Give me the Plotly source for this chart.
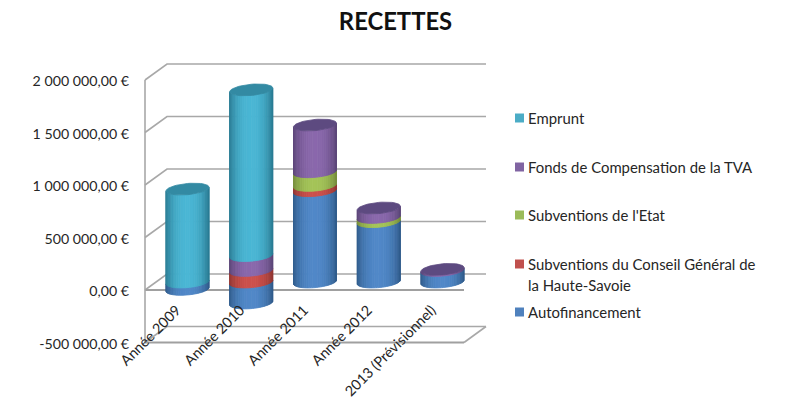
import math
import plotly.graph_objects as go

categories = ["Année 2009", "Année 2010", "Année 2011", "Année 2012", "2013 (Prévisionnel)"]
autofinancement = [-70000, -200000, 870000, 575000, 110000]
conseil_general = [0, 110000, 50000, 0, 0]
etat = [0, 0, 130000, 40000, 0]
fctva = [0, 142000, 445000, 90000, 10000]
emprunt = [885000, 1578000, 0, 0, 0]

series_names = ["Autofinancement", "Subventions du Conseil Général de la Haute-Savoie",
                "Subventions de l'Etat", "Fonds de Compensation de la TVA", "Emprunt"]
series_values = [autofinancement, conseil_general, etat, fctva, emprunt]
centre_colors = [(80, 136, 200), (204, 80, 76), (164, 196, 88), (138, 104, 172), (74, 182, 212)]
edge_colors = [(48, 92, 140), (146, 54, 50), (118, 142, 60), (92, 70, 120), (42, 124, 148)]
cap_colors = ["#3d6da3", "#a33f3b", "#85a045", "#5d4a80", "#338aa3"]
swatch_colors = ["#4f81bd", "#c0504d", "#9bbb59", "#8064a2", "#4bacc6"]

tick_vals = [2000000, 1500000, 1000000, 500000, 0, -500000]
tick_text = ["2 000 000,00 €", "1 500 000,00 €", "1 000 000,00 €", "500 000,00 €", "0,00 €", "-500 000,00 €"]

# Chart geometry
L, T, PW, PH = 144, 60, 346, 290
X_PX = 63.75
Y_PX = 105 / 1e6
x_range = [-43.5 / X_PX, (-43.5 + PW) / X_PX]
y_range = [(290 - (T + PH)) / Y_PX, (290 - T) / Y_PX]
RADIUS = 21.5 / X_PX
CAP_B = 5.6 / Y_PX
CAP_S = 1.9 / Y_PX
DEPTH_X = 22 / X_PX
DEPTH_Y = 16 / Y_PX
FRONT_L = x_range[0] + 1 / X_PX
FRONT_R = (464 - 187.5) / X_PX
BASE = 8 / Y_PX
STRIPS = 30
LABEL_NUDGE = 1.5 / Y_PX

fig = go.Figure()


def line(xs, ys, color="#a8a8a8", width=1.6):
    fig.add_trace(go.Scatter(x=xs, y=ys, mode="lines", line=dict(color=color, width=width), cliponaxis=False,
                             hoverinfo="skip", showlegend=False))


# Walls, gridlines and floor
for v in tick_vals:
    dark = v == 0
    line([FRONT_L, FRONT_L + DEPTH_X, FRONT_R + DEPTH_X], [v, v + DEPTH_Y, v + DEPTH_Y])
    if dark or v == tick_vals[-1]:
        line([FRONT_L, FRONT_R], [v, v], color="#a0a0a0", width=2)
line([FRONT_L, FRONT_L], [tick_vals[0], tick_vals[-1]])
line([FRONT_R, FRONT_R + DEPTH_X], [tick_vals[-1], tick_vals[-1] + DEPTH_Y])


def edge(cx, v, t):
    return (cx + RADIUS * math.cos(t),
            v + BASE - CAP_B * math.sin(t) + CAP_S * math.cos(t))


def mix(a, b, f):
    return "rgb(%d,%d,%d)" % tuple(round(p + (q - p) * f) for p, q in zip(a, b))


# Cylinder sides: vertical shaded strips for every stacked segment
for s, values in enumerate(series_values):
    for k in range(STRIPS):
        t1 = math.pi * (1 - k / STRIPS)
        t2 = math.pi * (1 - (k + 1) / STRIPS)
        u = math.cos((t1 + t2) / 2)
        shade = 1 - abs(u) ** 2.4
        xs, ys = [], []
        for i, val in enumerate(values):
            if val == 0:
                continue
            if val < 0:
                lo, hi = val, 0
            else:
                lo = sum(max(series_values[j][i], 0) for j in range(s))
                hi = lo + val
            pts = [edge(i, lo, t1), edge(i, lo, t2), edge(i, hi, t2), edge(i, hi, t1), edge(i, lo, t1)]
            xs += [p[0] for p in pts] + [None]
            ys += [p[1] for p in pts] + [None]
        if xs:
            col = mix(edge_colors[s], centre_colors[s], shade)
            fig.add_trace(go.Scatter(x=xs, y=ys, mode="lines", fill="toself", fillcolor=col,
                                     line=dict(color=col, width=0.8), hoverinfo="skip", showlegend=False))

# Top caps
for i in range(len(categories)):
    top = sum(max(v[i], 0) for v in series_values)
    s = max(j for j in range(len(series_values)) if series_values[j][i] > 0)
    pts = [edge(i, top, 2 * math.pi * a / 48) for a in range(49)]
    fig.add_trace(go.Scatter(x=[p[0] for p in pts], y=[p[1] for p in pts], mode="lines", fill="toself",
                             fillcolor=cap_colors[s], line=dict(color=cap_colors[s], width=0.8),
                             hoverinfo="skip", showlegend=False))

# Legend, placed by hand as in the reference
def px_x(p):
    return (p - L) / PW


def px_y(p):
    return (T + PH - p) / PH


legend_rows = [("Emprunt", 118, 4), ("Fonds de Compensation de la TVA", 167, 3), ("Subventions de l'Etat", 215, 2),
               ("Subventions du Conseil Général de", 264, 1), ("la Haute-Savoie", 285, None), ("Autofinancement", 312, 0)]
shapes, annotations = [], []
for label, py, s in legend_rows:
    annotations.append(dict(text=label, xref="paper", yref="paper", x=px_x(526), y=px_y(py), xanchor="left",
                            yanchor="middle", showarrow=False, font=dict(family="Lato", size=14.9, color="#262626")))
    if s is not None:
        shapes.append(dict(type="rect", xref="paper", yref="paper", x0=px_x(515), x1=px_x(524),
                           y0=px_y(py - 4.5), y1=px_y(py + 4.5), fillcolor=swatch_colors[s], line_width=0))

fig.update_layout(
    width=788, height=401, margin=dict(l=L, t=T, r=788 - L - PW, b=401 - T - PH),
    paper_bgcolor="white", plot_bgcolor="white", showlegend=False,
    title=dict(text="<b>RECETTES</b>", x=395.5 / 788, xanchor="center", y=1 - 22 / 401, yanchor="middle",
               font=dict(family="Lato", size=23.8, color="#111111")),
    xaxis=dict(range=x_range, tickmode="array", tickvals=[i - 0.17 for i in range(5)], ticktext=categories,
               tickangle=-45, showgrid=False, zeroline=False, showline=False, ticks="", automargin=False,
               anchor="free", position=(T + PH - 298) / PH,
               tickfont=dict(family="Lato", size=14.4, color="#262626")),
    yaxis=dict(range=y_range, tickmode="array", tickvals=[v - LABEL_NUDGE for v in tick_vals], ticktext=tick_text,
               showgrid=False, zeroline=False, showline=False, ticks="", ticklabelstandoff=14, automargin=False,
               tickfont=dict(family="Lato", size=14.2, color="#262626")),
    shapes=shapes, annotations=annotations,
)
fig.write_html("out.html", config=dict(displayModeBar=False), post_script="document.body.style.margin='0';")
